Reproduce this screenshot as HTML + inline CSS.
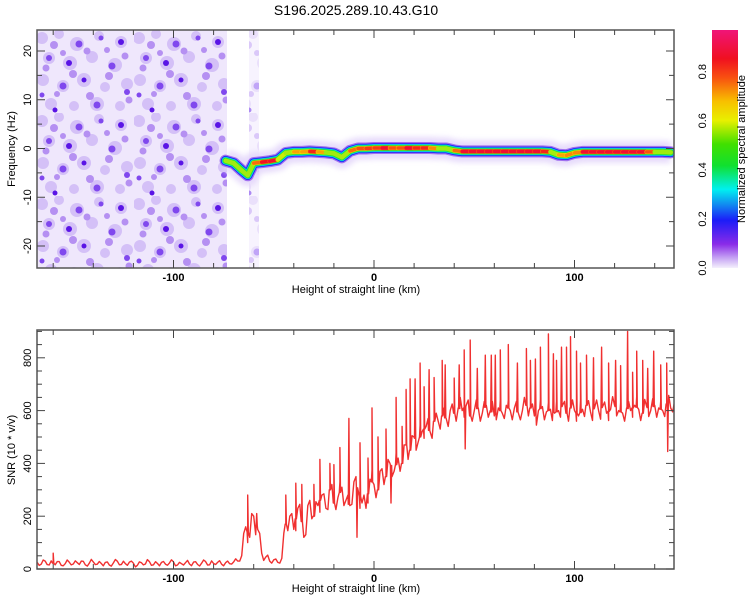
<!DOCTYPE html>
<html><head><meta charset="utf-8">
<style>
html,body{margin:0;padding:0;background:#fff;}
svg{display:block;font-family:"Liberation Sans",sans-serif;}
</style></head>
<body>
<svg id="chart" width="750" height="600" viewBox="0 0 750 600" xmlns="http://www.w3.org/2000/svg">
<defs>
  <linearGradient id="cbar" x1="0" y1="1" x2="0" y2="0">
    <stop offset="0" stop-color="#f4f0fc"/>
    <stop offset="0.04" stop-color="#c8a8f4"/>
    <stop offset="0.1" stop-color="#8a2be8"/>
    <stop offset="0.2" stop-color="#1c1cf8"/>
    <stop offset="0.27" stop-color="#1090f0"/>
    <stop offset="0.33" stop-color="#00f0f0"/>
    <stop offset="0.43" stop-color="#10e030"/>
    <stop offset="0.52" stop-color="#40e000"/>
    <stop offset="0.62" stop-color="#e8f000"/>
    <stop offset="0.7" stop-color="#f8c000"/>
    <stop offset="0.8" stop-color="#f85010"/>
    <stop offset="0.88" stop-color="#f01020"/>
    <stop offset="1" stop-color="#f01478"/>
  </linearGradient>
  <pattern id="noise" width="97" height="83" patternUnits="userSpaceOnUse" x="37" y="30">
    <rect width="97" height="83" fill="#efe7fc"/>
    <g fill="#d4c0f7">
      <circle cx="5" cy="8" r="6"/><circle cx="22" cy="4" r="5"/><circle cx="40" cy="14" r="7"/><circle cx="62" cy="6" r="5"/><circle cx="84" cy="12" r="6"/>
      <circle cx="12" cy="28" r="6"/><circle cx="33" cy="33" r="7"/><circle cx="55" cy="27" r="6"/><circle cx="78" cy="35" r="7"/><circle cx="6" cy="50" r="6"/>
      <circle cx="26" cy="56" r="6"/><circle cx="47" cy="50" r="7"/><circle cx="68" cy="57" r="5"/><circle cx="90" cy="54" r="6"/>
      <circle cx="14" cy="74" r="6"/><circle cx="37" cy="76" r="5"/><circle cx="60" cy="74" r="7"/><circle cx="83" cy="76" r="5"/>
    </g>
    <g fill="#b590f2">
      <circle cx="17" cy="15" r="4"/><circle cx="50" cy="21" r="3.5"/><circle cx="36" cy="44" r="4"/><circle cx="9" cy="38" r="3.5"/><circle cx="72" cy="46" r="4"/><circle cx="26" cy="23" r="3"/><circle cx="88" cy="26" r="3.5"/><circle cx="53" cy="66" r="4"/><circle cx="20" cy="64" r="3"/><circle cx="70" cy="20" r="3"/><circle cx="92" cy="70" r="3.5"/>
    </g>
    <g fill="#8048ee">
      <circle cx="42" cy="14" r="3.5"/><circle cx="12" cy="28" r="3"/><circle cx="75" cy="36" r="3.5"/><circle cx="26" cy="56" r="3.5"/><circle cx="64" cy="8" r="2.5"/><circle cx="60" cy="75" r="3.5"/><circle cx="90" cy="62" r="3"/><circle cx="5" cy="65" r="2.5"/>
    </g>
    <g fill="#5a14e6"><circle cx="32" cy="33" r="3"/><circle cx="84" cy="12" r="3"/><circle cx="47" cy="50" r="2.5"/><circle cx="18" cy="80" r="2.5"/></g>
  </pattern>
  <filter id="blur3" x="-20%" y="-100%" width="140%" height="300%"><feGaussianBlur stdDeviation="3"/></filter>
  <clipPath id="clipTop"><rect x="37" y="30" width="637" height="238"/></clipPath>
  <clipPath id="clipBot"><rect x="37" y="330" width="637" height="239"/></clipPath>
</defs>

<text x="356" y="15" font-size="14" text-anchor="middle">S196.2025.289.10.43.G10</text>

<g id="top">
  <g clip-path="url(#clipTop)">
    <rect x="37" y="30" width="190" height="238" fill="url(#noise)"/>
    <rect x="249" y="30" width="10" height="238" fill="url(#noise)" opacity="0.5"/>
    <g id="ridge"></g>
  </g>
  <rect x="37" y="30" width="637" height="238" fill="none" stroke="#555" stroke-width="1.5"/>
  <g id="topTicks"></g>
  <text x="356" y="293" font-size="11" text-anchor="middle">Height of straight line (km)</text>
  <text transform="translate(15,149) rotate(-90)" font-size="11" text-anchor="middle">Frequency (Hz)</text>
</g>

<g id="cb">
  <rect x="712" y="30" width="26" height="238" fill="url(#cbar)"/>
  <g id="cbTicks"></g>
  <text transform="translate(745,149) rotate(-90)" font-size="11" text-anchor="middle">Normalized spectral amplitude</text>
</g>

<g id="bot">
  <g clip-path="url(#clipBot)"><path id="snrLine" fill="none" stroke="#f03030" stroke-width="1.4" stroke-linejoin="round"/></g>
  <rect x="37" y="330" width="637" height="239" fill="none" stroke="#555" stroke-width="1.5"/>
  <g id="botTicks"></g>
  <text x="356" y="592" font-size="11" text-anchor="middle">Height of straight line (km)</text>
  <text transform="translate(15,450) rotate(-90)" font-size="11" text-anchor="middle">SNR (10 * v/v)</text>
</g>
</svg>
<script>
// ---- data ----
const xTicks = [-100, 0, 100];
const freqTicks = [-20, -10, 0, 10, 20];
const snrTicks = [0, 200, 400, 600, 800];
const cbTicks = [0.0, 0.2, 0.4, 0.6, 0.8];

const ridgeKm = [-74,-70,-66,-63,-60,-56,-52,-48,-44,-40,-36,-32,-28,-24,-20,-16,-12,-8,-4,0,4,8,12,16,20,24,28,32,36,40,44,48,52,56,60,64,68,72,76,80,84,88,92,96,100,104,108,112,116,120,124,128,132,136,140,144,148];
const ridgeFreq = [-2.5,-3,-4.5,-5.5,-3,-2.8,-2.6,-2.3,-0.9,-0.7,-0.7,-0.6,-0.7,-0.8,-1,-1.8,-0.5,0,0,0.1,0.1,0.1,0.1,0.1,0.1,0.1,0.1,0,0,-0.4,-0.6,-0.6,-0.6,-0.6,-0.6,-0.6,-0.6,-0.6,-0.6,-0.6,-0.6,-0.7,-1.3,-1.4,-0.9,-0.7,-0.7,-0.7,-0.7,-0.7,-0.7,-0.7,-0.7,-0.7,-0.7,-0.7,-0.8];
const ridgeAmp = [0.45,0.55,0.45,0.4,0.7,0.85,0.9,0.9,0.5,0.85,0.6,0.85,0.85,0.6,0.5,0.5,0.85,0.7,0.9,0.75,0.9,0.9,0.7,0.9,0.9,0.8,0.9,0.6,0.6,0.65,0.9,0.9,0.9,0.9,0.9,0.9,0.9,0.9,0.9,0.9,0.9,0.8,0.55,0.9,0.6,0.9,0.9,0.9,0.9,0.9,0.9,0.9,0.9,0.9,0.7,0.6,0.55];

const snrStartKm = -168;
const snrStepKm = 2;
const snrBase = [
 25,18,30,15,22,28,14,20,26,19,
 24,30,16,22,27,18,21,25,15,23,
 29,17,20,26,22,14,24,19,28,16,
 21,25,18,23,27,15,20,24,19,26,
 17,22,28,16,21,25,18,24,20,27,
 30,50,160,120,200,150,60,45,30,35,
 25,40,170,200,150,230,180,130,260,200,
 240,280,230,300,250,270,310,260,240,330,
 300,250,230,340,320,300,380,350,400,370,
 420,400,470,450,500,480,520,540,520,560,
 560,580,570,600,590,610,600,620,580,600,
 610,590,620,600,580,610,590,620,600,610,
 590,600,620,610,580,600,615,595,605,590,
 600,620,590,610,600,580,605,620,595,610,
 600,615,590,605,620,600,590,610,600,620,
 605,590,615,600,620,610,600,625,610,640];
// mid-step readings (odd km), as offsets from neighbouring samples
const snrMidOffset = [
 -8,10,-6,12,-9,7,-5,11,-7,9,
 -10,6,-8,12,-6,9,-11,7,-8,10,
 -7,11,-9,6,-10,8,-6,12,-8,9,
 -11,7,-6,10,-9,8,-7,11,-10,6,
 -8,9,-7,12,-6,10,-9,8,-5,10,
 -10,30,-40,50,-45,30,-20,15,-10,8,
 -10,30,-40,35,-45,40,-35,45,-40,35,
 -45,30,-40,45,-35,40,-45,30,-40,35,
 -45,40,-35,45,-40,30,-45,40,-35,45,
 -40,35,-45,30,-40,45,-35,40,-45,30,
 -40,35,-45,30,-40,45,-35,40,-30,35,
 -40,30,-35,45,-30,40,-35,30,-40,35,
 -30,40,-35,30,-45,35,-40,30,-35,40,
 -35,30,-40,35,-30,45,-35,30,-40,35,
 -40,30,-35,40,-30,35,-40,30,-35,40,
 -35,40,-30,35,-40,30,-35,40,-30,20];
const spikeKm = [-160,-63,-58.5,-44,-39,-36,-30,-27,-22,-20,-17,-12.5,-8.5,-7,-3,-1,2,6,8.5,11,14,16,18,20.5,23,25,27.5,30,34,35.5,40,42.5,45,45.5,48,51.5,55.5,58.5,60.5,63,67,71.5,76,78,80.5,83,87,89.5,91,93.5,96,98,101,103,106,109.5,113.5,117,120.5,123,126.5,129,131,134,136.5,139.5,143,146,146.5];
const spikeVal = [60,280,210,280,325,320,320,415,400,395,460,570,120,478,420,610,500,530,250,650,540,680,720,720,780,690,755,725,790,773,723,773,830,455,867,760,810,810,810,830,850,780,835,790,795,840,890,815,790,840,840,880,825,780,810,800,840,780,790,770,900,745,825,790,760,825,773,780,445];

// ---- scales ----
const xS = km => 374 + (km) * 2.005;
const fS = f => 148.5 - f * 4.875;
const sS = v => 569 - v * 0.264;
const cS = a => 268 - a * 238 / 0.97;
const NS = 'http://www.w3.org/2000/svg';
function mk(tag, parent, attrs){ const e=document.createElementNS(NS,tag); for(const k in attrs) e.setAttribute(k,attrs[k]); parent.appendChild(e); return e; }

function ampColor(a){
  const stops=[[0,[243,238,253]],[0.1,[138,43,232]],[0.2,[28,28,248]],[0.32,[0,240,240]],[0.45,[16,224,48]],[0.6,[232,240,0]],[0.7,[248,192,0]],[0.8,[248,80,16]],[0.88,[240,16,32]],[1,[240,20,120]]];
  for(let i=1;i<stops.length;i++){ if(a<=stops[i][0]){ const a0=stops[i-1][0],c0=stops[i-1][1],a1=stops[i][0],c1=stops[i][1]; const t=(a-a0)/(a1-a0); return 'rgb('+c0.map((c,j)=>Math.round(c+(c1[j]-c)*t)).join(',')+')'; } }
  return 'rgb(240,20,120)';
}

// ---- ridge ----
const ridge = document.getElementById('ridge');
const pts = ridgeKm.map((k,i)=>xS(k).toFixed(1)+','+fS(ridgeFreq[i]).toFixed(1)).join(' ');
const halo = mk('polyline', ridge, {points:pts, fill:'none', stroke:'#e2d4fa', 'stroke-width':22, 'stroke-linejoin':'round', filter:'url(#blur3)', opacity:0.85});


const layers=[['#a070f0',12],['#1c1cf8',9.5],['#10a8f0',8],['#00e8d0',7],['#20e030',6]];
layers.forEach(function(l0){
  const l = mk('polyline', ridge, {points:pts, fill:'none', stroke:l0[0], 'stroke-width':l0[1], 'stroke-linejoin':'round', 'stroke-linecap':'round'});
  
  
});
for(let i=0;i<ridgeKm.length-1;i++){
  const a=(ridgeAmp[i]+ridgeAmp[i+1])/2;
  const seg = mk('line', ridge, {x1:xS(ridgeKm[i]),y1:fS(ridgeFreq[i]),x2:xS(ridgeKm[i+1]),y2:fS(ridgeFreq[i+1]),stroke:ampColor(Math.max(0.55,a-0.12)),'stroke-width':4.5,'stroke-linecap':'round'});
  
  
  if(a>0.7){
    const core = mk('line', ridge, {x1:xS(ridgeKm[i]),y1:fS(ridgeFreq[i]),x2:xS(ridgeKm[i+1]),y2:fS(ridgeFreq[i+1]),stroke:ampColor(a),'stroke-width':3.5,'stroke-linecap':'round'});
    
    
  }
}

// ---- ticks ----
function axisTicks(gid, y0, y1, yFn, yVals, minorStep, yMin, yMax){
  const g=document.getElementById(gid);
  for(let k=-160;k<=150;k+=20){
    const x=xS(k), major=xTicks.includes(k), L=major?8:5;
    mk('line',g,{x1:x,y1:y1,x2:x,y2:y1-L,stroke:'#444','stroke-width':1});
    mk('line',g,{x1:x,y1:y0,x2:x,y2:y0+L,stroke:'#444','stroke-width':1});
  }
  xTicks.forEach(function(k){
    const t=mk('text',g,{x:xS(k),y:y1+13,'font-size':11,'font-weight':'bold','text-anchor':'middle'});
    t.textContent=k;
    
    
  });
  for(let v=Math.ceil(yMin/minorStep)*minorStep; v<=yMax; v+=minorStep){
    const y=yFn(v), major=yVals.includes(v), L=major?8:5;
    mk('line',g,{x1:37,y1:y,x2:37+L,y2:y,stroke:'#444','stroke-width':1});
    mk('line',g,{x1:674,y1:y,x2:674-L,y2:y,stroke:'#444','stroke-width':1});
  }
  yVals.forEach(function(v){
    const t=mk('text',g,{transform:'translate(31,'+yFn(v)+') rotate(-90)','font-size':11,'text-anchor':'middle'});
    t.textContent=v;
    
    
  });
}
axisTicks('topTicks',30,268,fS,freqTicks,5,-24,24);
axisTicks('botTicks',330,569,sS,snrTicks,50,0,900);

const cbg=document.getElementById('cbTicks');
cbTicks.forEach(function(v){
  const t=mk('text',cbg,{transform:'translate(706,'+cS(v)+') rotate(-90)','font-size':11,'text-anchor':'middle'});
  t.textContent=v.toFixed(1);
  
  
});

// ---- SNR line ----
const allPts=[];
snrBase.forEach(function(v,i){
  const k=snrStartKm+i*snrStepKm;
  allPts.push([k,v]);
  if(i<snrBase.length-1){ allPts.push([k+snrStepKm/2, Math.max(2,(v+snrBase[i+1])/2+snrMidOffset[i])]); }
});
function baseAt(k){ const f=(k-snrStartKm)/snrStepKm, i=Math.max(0,Math.min(snrBase.length-2,Math.floor(f))), t=f-i; return snrBase[i]+(snrBase[i+1]-snrBase[i])*t; }
spikeKm.forEach(function(k,i){ const b=baseAt(k); allPts.push([k-0.3,b]); allPts.push([k,spikeVal[i]]); allPts.push([k+0.3,b]); });
allPts.sort(function(a,b){return a[0]-b[0];});
document.getElementById('snrLine').setAttribute('d', allPts.map(function(p,i){return (i?'L':'M')+xS(p[0]).toFixed(1)+','+sS(p[1]).toFixed(1);}).join(''));
</script>
</body></html>
